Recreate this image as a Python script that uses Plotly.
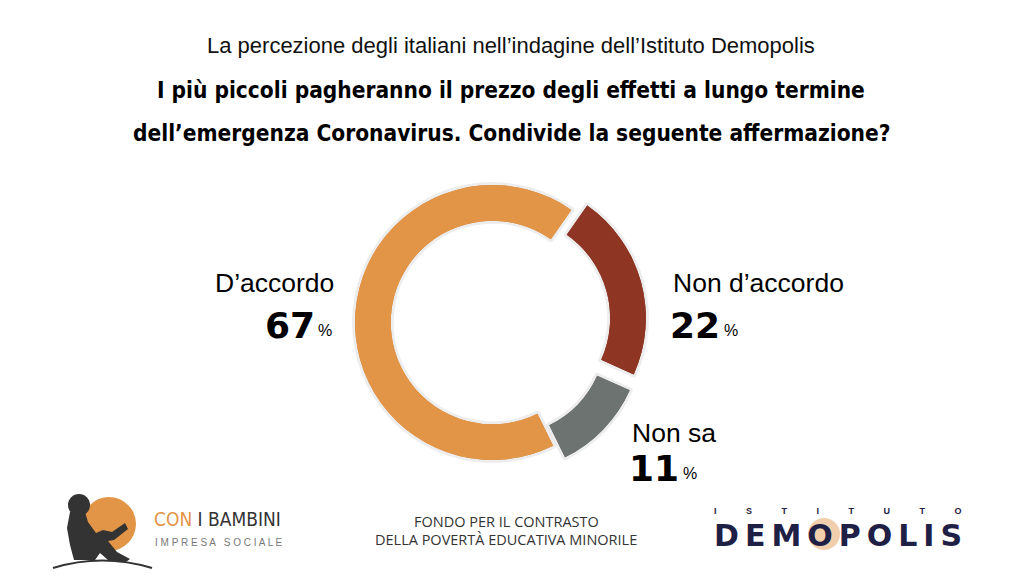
import plotly.graph_objects as go

# ---- data ----
labels = ["Non d’accordo", "Non sa", "D’accordo"]
values = [22, 11, 67]
colors = ["#8F3524", "#6D7370", "#E29447"]
pulls = [0.12, 0.12, 0.0]

subtitle = "La percezione degli italiani nell’indagine dell’Istituto Demopolis"
title_lines = ["I più piccoli pagheranno il prezzo degli effetti a lungo termine",
               "dell’emergenza Coronavirus. Condivide la seguente affermazione?"]

W, H = 1024, 576

fig = go.Figure()

pie_domain = dict(x=[0.3306, 0.6313], y=[0.1727, 0.7075])
# soft shadow layer
fig.add_trace(go.Pie(
    labels=labels, values=values, sort=False, direction="clockwise",
    rotation=35, hole=0.74, pull=pulls,
    marker=dict(colors=colors, line=dict(width=6, color="rgba(0,0,0,0.07)")),
    textinfo="none", hoverinfo="skip", showlegend=False, domain=pie_domain,
))
fig.add_trace(go.Pie(
    labels=labels, values=values, sort=False, direction="clockwise",
    rotation=35, hole=0.74, pull=pulls,
    marker=dict(colors=colors, line=dict(width=0)),
    textinfo="none", hoverinfo="label+percent", showlegend=False, domain=pie_domain,
))

# invisible pixel axes for decorations
fig.add_trace(go.Scatter(x=[0, W], y=[0, H], mode="markers",
                         marker=dict(opacity=0), hoverinfo="skip", showlegend=False))
fig.update_xaxes(range=[0, W], visible=False, fixedrange=True)
fig.update_yaxes(range=[H, 0], visible=False, fixedrange=True)

ann = []
def text(x, y, s, size, color="#111111", family="Liberation Sans", xanchor="center", yanchor="middle", bold=False):
    if bold:
        s = "<b>" + s + "</b>"
    ann.append(dict(x=x, y=y, xref="x", yref="y", text=s, showarrow=False,
                    xanchor=xanchor, yanchor=yanchor,
                    font=dict(size=size, color=color, family=family)))

cond = "DejaVu Sans Condensed"
text(511, 45, subtitle, 22, "#111111")
text(511, 90, title_lines[0], 22.5, "#000000", family=cond, bold=True)
text(511, 133, title_lines[1], 22.5, "#000000", family=cond, bold=True)

# slice labels
big = "DejaVu Sans"
lab = 26.5
num = 36
def slice_label(x, y_lab, y_num, name, v, right=None):
    text(x, y_lab, name, lab, "#000000", xanchor="left")
    if right is None:
        text(x - 3, y_num, str(v), num, "#000000", family=big, xanchor="left", bold=True)
        text(x - 3 + 2 * 0.696 * num + 4, y_num + 5, "%", 16, "#000000", xanchor="left")
    else:
        text(right, y_num + 5, "%", 16, "#000000", xanchor="right")
        text(right - 17, y_num, str(v), num, "#000000", family=big, xanchor="right", bold=True)

slice_label(213, 283, 325, labels[2], values[2], right=334)
slice_label(671, 283, 325, labels[0], values[0])
slice_label(630, 433, 468, labels[1], values[1])

# footer: Con i Bambini
text(152, 519, "<span style='color:#E29447'>CON</span> I BAMBINI", 19, "#333333",
     family=cond, xanchor="left")
text(153, 542, "I M P R E S A   S O C I A L E", 10, "#777777", xanchor="left")

# footer middle
text(506, 521, "FONDO PER IL CONTRASTO", 14.5, "#333333", family="Open Sans")
text(506, 539, "DELLA POVERTÀ EDUCATIVA MINORILE", 14.5, "#333333", family="Open Sans")

# Demopolis
gap = "\u2003\u2003\u2003 "
text(838, 511, gap.join(list("ISTITUTO")), 9, "#1F2045", family="Liberation Sans", bold=True)
text(838, 535, "\u2009".join(list("DEMOPOLIS")), 30, "#1F2045", family=big, bold=True)

shapes = [
    dict(type="circle", xref="x", yref="y", x0=82, x1=136, y0=497, y1=551,
         fillcolor="#E29447", line=dict(width=0), layer="below"),
    dict(type="circle", xref="x", yref="y", x0=68, x1=90, y0=494, y1=516,
         fillcolor="#333333", line=dict(width=0)),
    dict(type="path", xref="x", yref="y",
         path="M 70,512 L 85,512 L 88,522 L 96,533 L 103,530 L 112,532 L 125,523 L 128,529 "
              "L 114,540 L 108,541 L 117,552 L 130,559 L 126,562 L 108,560 L 100,553 "
              "L 95,560 L 74,560 L 70,545 L 67,528 Z",
         fillcolor="#333333", line=dict(width=0)),
    dict(type="path", xref="x", yref="y", path="M 53,568 Q 102,553 152,568",
         line=dict(color="#333333", width=2)),
    dict(type="circle", xref="x", yref="y", x0=808, x1=840, y0=518, y1=550,
         fillcolor="rgba(226,148,71,0.45)", line=dict(width=0), layer="below"),
]

fig.update_layout(
    width=W, height=H, margin=dict(l=0, r=0, t=0, b=0),
    paper_bgcolor="white", plot_bgcolor="white",
    annotations=ann, shapes=shapes,
)

fig.write_html("out.html", config={"displayModeBar": False},
               post_script="document.body.style.margin='0';")
